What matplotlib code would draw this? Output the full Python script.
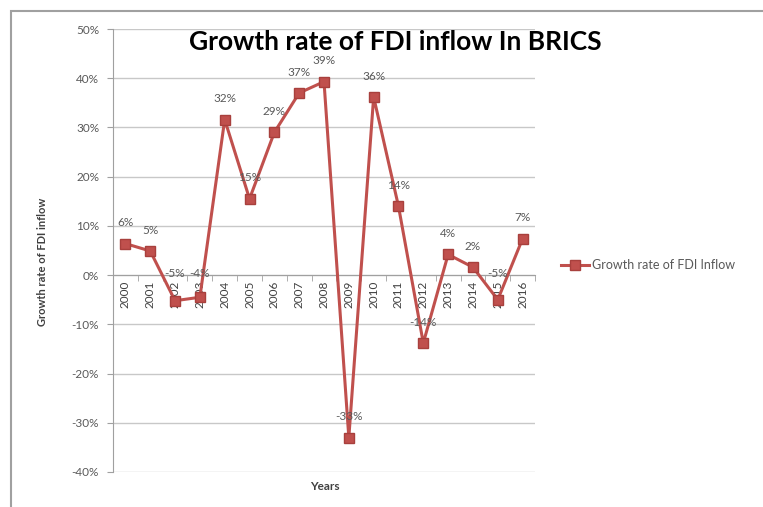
import matplotlib
matplotlib.use("Agg")
import matplotlib.pyplot as plt
from matplotlib.patches import Rectangle
from matplotlib.ticker import PercentFormatter, FixedLocator

years = ["2000", "2001", "2002", "2003", "2004", "2005", "2006", "2007", "2008",
         "2009", "2010", "2011", "2012", "2013", "2014", "2015", "2016"]
growth = [6.4, 4.9, -5.2, -4.5, 31.6, 15.5, 29.0, 37.0, 39.3,
          -33.0, 36.2, 14.0, -13.8, 4.2, 1.6, -5.0, 7.4]
labels = ["6%", "5%", "-5%", "-4%", "32%", "15%", "29%", "37%", "39%",
          "-33%", "36%", "14%", "-14%", "4%", "2%", "-5%", "7%"]
yticks = [-40, -30, -20, -10, 0, 10, 20, 30, 40, 50]

plt.rcParams['font.family'] = ['Lato', 'DejaVu Sans']
plt.rcParams['axes.unicode_minus'] = False

W, H = 763, 507
fig = plt.figure(figsize=(W / 100, H / 100), dpi=100)
fig.patches.append(Rectangle((11 / W, -0.1), 1.2, 1 - 11 / H + 0.1, transform=fig.transFigure,
                             fill=False, edgecolor='#a0a0a0', linewidth=1.5))

ax = fig.add_axes([113 / W, 1 - 472 / H, (535 - 113) / W, (472 - 29) / H])
x = list(range(len(years)))
col = '#C0504D'
ax.plot(x, growth, color=col, linewidth=2.2, marker='s', markersize=7,
        markerfacecolor='#C0504D', markeredgecolor='#A8403D', zorder=3,
        label='Growth rate of FDI Inflow')

for xi, v, t in zip(x, growth, labels):
    if -10 < v < 0:
        ax.annotate(t, (xi, v), xytext=(xi, 0.4), textcoords='data',
                    ha='center', va='center', fontsize=8.5, color='#595959', zorder=4)
    else:
        ax.annotate(t, (xi, v), xytext=(0, 15), textcoords='offset points',
                    ha='center', va='center', fontsize=8.5, color='#595959', zorder=4)

ax.set_xlim(-0.5, len(years) - 0.5)
ax.set_ylim(-40, 50)
ax.set_yticks(yticks)
ax.yaxis.set_major_formatter(PercentFormatter(decimals=0))
ax.grid(axis='y', color='#c8c8c8', linewidth=1)
ax.set_axisbelow(True)

for s in ['top', 'right']:
    ax.spines[s].set_visible(False)
ax.spines['left'].set_color('#a0a0a0')
ax.spines['bottom'].set_position(('data', 0))
ax.spines['bottom'].set_color('#a0a0a0')

ax.set_xticks(x)
ax.set_xticklabels(years, rotation=90, fontsize=8.5, color='#404040')
ax.tick_params(axis='x', length=0, pad=4)
ax.xaxis.set_minor_locator(FixedLocator([i - 0.5 for i in range(len(years) + 1)]))
ax.tick_params(axis='x', which='minor', length=4, color='#a0a0a0', direction='out')
ax.tick_params(axis='y', labelsize=8.5, labelcolor='#595959', length=4, color='#a0a0a0', pad=6)

fig.text(0.518, 1 - 42 / H, 'Growth rate of FDI inflow In BRICS', ha='center', va='center',
         fontsize=19, fontweight='bold', color='#000000')
fig.text(42 / W, 1 - 262 / H, 'Growth rate of FDI inflow', rotation=90, ha='center', va='center',
         fontsize=8, fontweight='bold', color='#404040')
fig.text(325 / W, 1 - 487 / H, 'Years', ha='center', va='center',
         fontsize=8.5, fontweight='bold', color='#404040')

leg = fig.legend(loc='center left', bbox_to_anchor=(550 / W, 1 - 265 / H), frameon=False,
                 fontsize=9, handlelength=2.2, handletextpad=0.3)
for t in leg.get_texts():
    t.set_color('#595959')

fig.savefig('out.png', dpi=100)
